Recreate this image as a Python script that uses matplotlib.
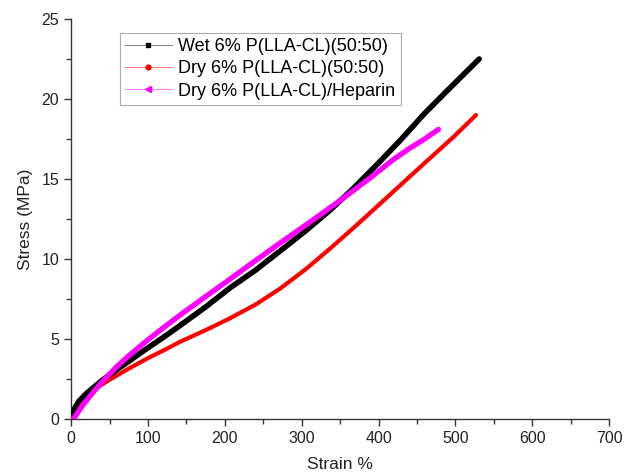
import matplotlib
matplotlib.use("Agg")
import matplotlib.pyplot as plt
from matplotlib.lines import Line2D
from matplotlib.ticker import MultipleLocator

plt.rcParams['font.family'] = ['Liberation Sans', 'DejaVu Sans']

# Data
wet_strain = [0, 5, 10, 20, 30, 40, 50, 60, 75, 100, 120, 142, 175, 207, 240, 272, 305, 337, 367, 402, 428, 460, 489, 510, 531]
wet_stress = [0, 0.7, 1.1, 1.6, 2.0, 2.4, 2.75, 3.1, 3.6, 4.45, 5.1, 5.85, 7.0, 8.2, 9.3, 10.5, 11.75, 13.05, 14.4, 16.1, 17.4, 19.1, 20.5, 21.5, 22.5]

dry_strain = [0, 5, 10, 20, 30, 40, 50, 75, 100, 125, 142, 175, 207, 240, 272, 305, 337, 370, 402, 435, 467, 497, 527]
dry_stress = [0, 0.5, 0.9, 1.4, 1.8, 2.15, 2.45, 3.15, 3.8, 4.4, 4.83, 5.55, 6.3, 7.15, 8.15, 9.35, 10.65, 12.05, 13.45, 14.9, 16.3, 17.6, 19.0]

hep_strain = [3, 6, 10, 15, 20, 30, 40, 50, 60, 75, 100, 120, 142, 175, 207, 240, 272, 315, 357, 390, 419, 440, 460, 478]
hep_stress = [0, 0.2, 0.5, 0.85, 1.15, 1.75, 2.3, 2.8, 3.3, 3.95, 4.95, 5.7, 6.5, 7.65, 8.75, 9.9, 11.0, 12.45, 13.9, 15.1, 16.2, 16.9, 17.5, 18.1]

labels = ["Wet 6% P(LLA-CL)(50:50)", "Dry 6% P(LLA-CL)(50:50)", "Dry 6% P(LLA-CL)/Heparin"]

fig = plt.figure(figsize=(6.24, 4.75), dpi=100)
ax = fig.add_axes([0.114, 0.118, 0.862, 0.842])

ax.plot(dry_strain, dry_stress, color='#ff0000', lw=3.0, solid_capstyle='round', solid_joinstyle='round', zorder=2)
ax.plot(wet_strain, wet_stress, color='#000000', lw=4.0, solid_capstyle='round', solid_joinstyle='round', zorder=3)
ax.plot(hep_strain, hep_stress, color='#ff00ff', lw=3.8, solid_capstyle='round', solid_joinstyle='round', zorder=4)

ax.set_xlim(0, 700)
ax.set_ylim(0, 25)
ax.xaxis.set_major_locator(MultipleLocator(100))
ax.xaxis.set_minor_locator(MultipleLocator(50))
ax.yaxis.set_major_locator(MultipleLocator(5))
ax.yaxis.set_minor_locator(MultipleLocator(2.5))
for s in ['top', 'right']:
    ax.spines[s].set_visible(False)
for s in ['left', 'bottom']:
    ax.spines[s].set_color('#333333')
    ax.spines[s].set_linewidth(1.0)
ax.tick_params(which='major', direction='out', length=5, width=1, colors='#333333', labelsize=11.5, labelcolor='#222222')
ax.tick_params(which='minor', direction='out', length=3.5, width=1, colors='#333333')
ax.set_xlabel("Strain %", fontsize=12.5, color='#222222', labelpad=8)
ax.set_ylabel("Stress (MPa)", fontsize=12.5, color='#222222', labelpad=6)

handles = [
    Line2D([], [], color='#888888', lw=0.8, marker='s', markersize=3.5, markerfacecolor='black', markeredgecolor='black'),
    Line2D([], [], color='#ff8080', lw=0.8, marker='o', markersize=3.5, markerfacecolor='red', markeredgecolor='red'),
    Line2D([], [], color='#ff80ff', lw=0.8, marker='<', markersize=4, markerfacecolor='#ff00ff', markeredgecolor='#ff00ff'),
]
leg = ax.legend(handles, labels, loc='upper left', bbox_to_anchor=(0.09, 0.965), borderaxespad=0,
                fontsize=13, frameon=True, fancybox=False, edgecolor='#999999', handlelength=2.6,
                handletextpad=0.35, labelspacing=0.28, borderpad=0.3)
leg.get_frame().set_linewidth(0.8)

fig.savefig("out.png", dpi=100)
